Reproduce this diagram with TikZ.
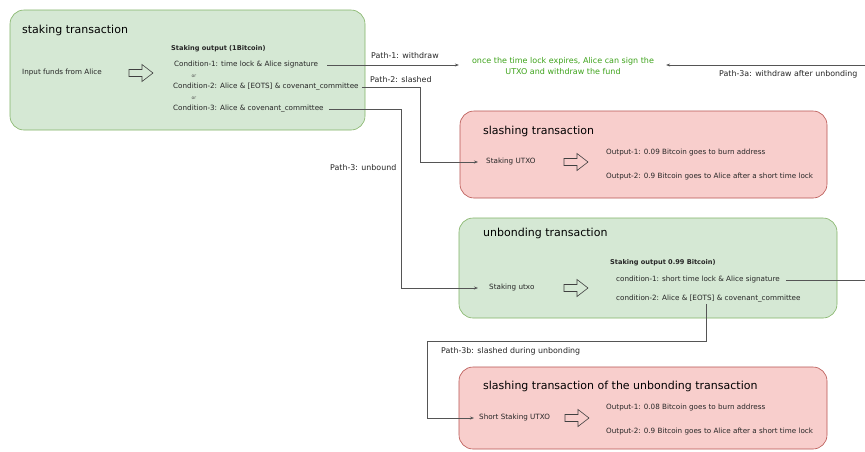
\documentclass[tikz,border=0pt]{standalone}
\usepackage{fontspec}
\setmainfont{DejaVu Sans}
\usetikzlibrary{arrows.meta,calc}
\definecolor{gfill}{HTML}{D5E8D4}
\definecolor{gdraw}{HTML}{82B366}
\definecolor{rfill}{HTML}{F8CECC}
\definecolor{rdraw}{HTML}{B85450}
\definecolor{gtext}{HTML}{3DA31A}
\definecolor{lncol}{HTML}{555555}
\begin{document}
\begin{tikzpicture}[x=1pt,y=-1pt,
 gbox/.style={draw=gdraw,fill=gfill,rounded corners=14pt,line width=0.6pt,inner sep=0pt},
 rbox/.style={draw=rdraw,fill=rfill,rounded corners=14pt,line width=0.6pt,inner sep=0pt},
 ttl/.style={anchor=west,inner sep=0pt,font=\fontsize{11}{13}\selectfont},
 txt/.style={anchor=west,inner xsep=1pt,inner ysep=1pt,font=\fontsize{7.2}{9}\selectfont,text=black!85},
 lbl/.style={txt,font=\fontsize{7.9}{9}\selectfont},
 btxt/.style={txt,font=\fontsize{6.6}{8}\selectfont\bfseries},
 ortxt/.style={anchor=center,inner sep=0pt,font=\fontsize{4.5}{5}\selectfont,text=black!70},
 gtxt/.style={align=center,inner sep=0pt,font=\fontsize{8}{11}\selectfont,text=gtext},
 conn/.style={draw=lncol,line width=0.6pt,-{Stealth[length=4pt,width=3pt]}},
 plain/.style={draw=lncol,line width=0.6pt},
 harrow/.pic={\draw[black!75,line width=0.6pt] (-12,-3.5) -- (1,-3.5) -- (1,-8.5) -- (12,0) -- (1,8.5) -- (1,3.5) -- (-12,3.5) -- cycle;}
]
\useasboundingbox (0,0) rectangle (865,451);
\fill[white] (0,0) rectangle (865,451);

% staking transaction
\node[gbox,minimum width=355pt,minimum height=120pt] (stk) at (187.5,70) {};
\node[ttl] (t1) at (22,30) {staking transaction};
\node[txt] (in1) at (21,73) {Input funds from Alice};
\pic at (141,73) {harrow};
\node[btxt] (so1) at (170,49) {Staking output (1Bitcoin)};
\node[txt] (c1) at (173,65) {Condition-1: time lock \& Alice signature};
\node[ortxt] (or1) at (194,76) {or};
\node[txt] (c2) at (172,87) {Condition-2: Alice \& [EOTS] \& covenant\_committee};
\node[ortxt] (or2) at (194,98) {or};
\node[txt] (c3) at (172,109) {Condition-3: Alice \& covenant\_committee};

% withdraw text
\node[gtxt] (wd) at (563,66.5) {once the time lock expires, Alice can sign the\\UTXO and withdraw the fund};
\coordinate (r3a) at (865,65);

% slashing transaction
\node[rbox,minimum width=367pt,minimum height=87pt] (sl) at (643.5,154.5) {};
\node[ttl] (t2) at (483,131) {slashing transaction};
\node[txt] (utxo1) at (485,162) {Staking UTXO};
\pic at (576,162) {harrow};
\node[txt] (o11) at (605,153) {Output-1: 0.09 Bitcoin goes to burn address};
\node[txt] (o12) at (605,177) {Output-2: 0.9 Bitcoin goes to Alice after a short time lock};

% unbonding transaction
\node[gbox,minimum width=378pt,minimum height=100pt] (ub) at (648,268) {};
\node[ttl] (t3) at (483,233) {unbonding transaction};
\node[txt] (utxo2) at (488,288) {Staking utxo};
\pic at (576,288) {harrow};
\node[btxt] (so2) at (609,263) {Staking output 0.99 Bitcoin)};
\node[txt] (uc1) at (615,280) {condition-1: short time lock \& Alice signature};
\node[txt] (uc2) at (615,299) {condition-2: Alice \& [EOTS] \& covenant\_committee};

% slashing of unbonding
\node[rbox,minimum width=368pt,minimum height=82pt] (su) at (643,408) {};
\node[ttl] (t4) at (483,386) {slashing transaction of the unbonding transaction};
\node[txt] (sutxo) at (478,418) {Short Staking UTXO};
\pic at (577,418) {harrow};
\node[txt] (o21) at (605,408) {Output-1: 0.08 Bitcoin goes to burn address};
\node[txt] (o22) at (605,432) {Output-2: 0.9 Bitcoin goes to Alice after a short time lock};

% connectors
\coordinate (x2) at (420,0);
\coordinate (x3) at (401,0);
\coordinate (p3b) at (706,341);
\coordinate (p3bx) at (427,341);
\draw[conn,shorten <=8pt,shorten >=13pt] (c1.east) -- (c1.east -| wd.west);
\draw[conn,shorten >=12pt] (r3a) -- (r3a -| wd.east);
\draw[conn,shorten <=2pt,shorten >=7pt] (c2.east) -- (c2.east -| x2) |- (utxo1.west);
\draw[conn,shorten <=4pt,shorten >=10pt] (c3.east) -- (c3.east -| x3) |- (utxo2.west);
\draw[plain,shorten <=5pt] (uc1.east) -- (uc1.east -| r3a);
\draw[conn,shorten >=4pt] (uc2.south -| p3b) -- (p3b) -- (p3bx) |- (sutxo.west);

% labels
\node[lbl] (l1) at (370,56) {Path-1: withdraw};
\node[lbl] (l2) at (369,80) {Path-2: slashed};
\node[lbl] (l3) at (329,168) {Path-3: unbound};
\node[lbl] (l3a) at (718,74) {Path-3a: withdraw after unbonding};
\node[lbl] (l3b) at (440,351) {Path-3b: slashed during unbonding};
\end{tikzpicture}
\end{document}
